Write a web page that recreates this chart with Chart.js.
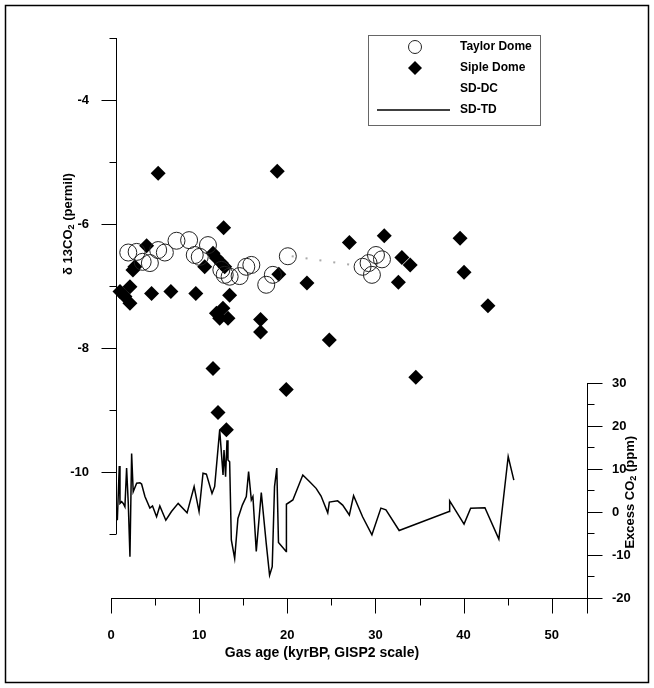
<!DOCTYPE html>
<html>
<head>
<meta charset="utf-8">
<script src="https://cdn.jsdelivr.net/npm/chart.js@4.4.1/dist/chart.umd.min.js"></script>
<style>
  html, body { margin: 0; padding: 0; background: #fff; }
  #wrap { width: 654px; height: 688px; }
</style>
</head>
<body>
<div id="wrap"><canvas id="isoChart" width="654" height="688"></canvas></div>
<script>
// Taylor Dome d13C of CO2 (permil) against gas age (kyr BP)
const tdAge = [1.96, 2.91, 3.59, 4.41, 5.35, 6.11, 7.43, 8.86, 9.5, 10.07, 11.0, 12.52, 12.9, 13.46,
  14.59, 15.35, 15.92, 17.61, 18.36, 20.06, 28.54, 29.22, 29.6, 30.06, 30.74];
const tdD13 = [-6.46, -6.45, -6.61, -6.63, -6.42, -6.46, -6.27, -6.26, -6.5, -6.53, -6.34, -6.74, -6.82, -6.85,
  -6.84, -6.69, -6.66, -6.98, -6.82, -6.52, -6.69, -6.63, -6.82, -6.5, -6.57];

// Siple Dome d13C of CO2 (permil)
const sdAge = [1.02, 1.58, 2.15, 2.15, 2.49, 2.71, 4.04, 4.6, 5.35, 6.79, 9.62, 10.63, 11.57, 11.57,
  11.96, 11.96, 12.14, 12.33, 12.52, 12.7, 12.78, 12.9, 13.09, 13.27, 13.46, 16.97, 16.97, 18.86,
  19.04, 19.88, 22.23, 24.77, 27.04, 31.0, 32.6, 33.0, 33.94, 34.58, 39.6, 40.05, 42.76];
const sdD13 = [-7.09, -7.17, -7.01, -7.28, -6.74, -6.69, -6.35, -7.12, -5.18, -7.09, -7.12, -6.69, -6.47, -8.33,
  -6.55, -7.44, -9.04, -7.52, -6.63, -7.36, -6.06, -6.69, -9.32, -7.52, -7.15, -7.54, -7.74, -5.15,
  -6.81, -8.67, -6.95, -7.87, -6.3, -6.19, -6.94, -6.54, -6.66, -8.47, -6.23, -6.78, -7.32];

// SD-DC trace (permil axis)
const dcAge = [20.5, 28.3];
const dcD13 = [-6.52, -6.68];

// SD-TD excess CO2 (ppm, right axis)
const exAge = [0.72, 0.94, 1.02, 1.21, 1.39, 1.58, 1.77, 1.96, 2.15, 2.34, 2.52, 2.91, 3.28, 3.47, 3.85,
  4.41, 4.71, 5.17, 5.54, 6.22, 6.86, 7.62, 8.63, 9.43, 9.99, 10.44, 10.82, 11.46, 11.76, 12.33,
  12.71, 12.82, 13.0, 13.16, 13.27, 13.46, 13.65, 14.03, 14.4, 14.9, 15.35, 15.61, 15.92, 16.1,
  16.48, 17.05, 17.61, 17.99, 18.29, 18.55, 18.81, 19.0, 19.87, 19.9, 20.63, 21.76, 22.51, 23.27,
  23.83, 24.59, 24.77, 25.71, 26.28, 27.04, 27.52, 28.54, 29.6, 30.62, 31.19, 32.69, 38.35, 38.42,
  40.05, 40.8, 42.42, 44.0, 45.06, 45.7];
const exPpm = [-1.9, 10.7, 2.0, 2.4, 2.0, 1.2, 10.2, 2.0, -10.4, 13.6, 4.7, 6.7, 6.8, 6.5, 3.6,
  0.9, 1.4, -1.1, 1.4, -1.9, 0.1, 2.0, -0.2, 5.9, 0.1, 9.0, 8.8, 4.3, 5.9, 19.1,
  8.6, 14.4, 8.2, 16.7, 12.1, 11.7, -6.5, -10.8, -1.5, 1.6, 3.6, 9.4, 2.8, 3.6,
  -9.2, 4.5, -7.3, -14.7, -12.7, 5.9, 10.2, -7.1, -9.2, 1.8, 2.8, 8.6, 7.1, 5.5,
  3.7, -0.2, 2.3, 2.6, 1.6, -0.7, 3.8, -1.1, -5.3, 0.9, 0.5, -4.3, 0.1, 2.6,
  -2.8, 0.9, 1.0, -6.3, 12.9, 7.4];

const xTicks = [0, 10, 20, 30, 40, 50];
const leftTicks = [-10, -8, -6, -4];
const rightTicks = [-20, -10, 0, 10, 20, 30];

const FONT = "'Liberation Sans', Arial, sans-serif";
const pts = (xs, ys) => xs.map((x, i) => ({ x: x, y: ys[i] }));

// text with a subscripted piece, centred on the current origin
function drawParts(ctx, parts, size) {
  let total = 0;
  parts.forEach(p => {
    ctx.font = 'bold ' + (p.sub ? size * 0.7 : size) + 'px ' + FONT;
    p.w = ctx.measureText(p.t).width;
    total += p.w;
  });
  let x = -total / 2;
  parts.forEach(p => {
    ctx.font = 'bold ' + (p.sub ? size * 0.7 : size) + 'px ' + FONT;
    ctx.fillText(p.t, x, p.sub ? size * 0.3 : 0);
    x += p.w;
  });
}

const offsetAxes = {
  id: 'offsetAxes',
  afterDraw(chart) {
    const { ctx, chartArea: a } = chart;
    const { x, y, y2 } = chart.scales;
    const line = (x1, y1, x2, yb) => { ctx.beginPath(); ctx.moveTo(x1, y1); ctx.lineTo(x2, yb); ctx.stroke(); };
    const snap = v => Math.round(v) + 0.5;

    ctx.save();
    ctx.strokeStyle = '#000';
    ctx.fillStyle = '#000';

    // outer frame
    ctx.lineWidth = 1.5;
    ctx.strokeRect(5.5, 5.5, 643, 677);
    ctx.lineWidth = 1;

    // left axis (permil), sits just right of x = 0
    const lx = snap(x.getPixelForValue(0.55));
    line(lx, y.getPixelForValue(-3), lx, y.getPixelForValue(-11));
    for (let v = -11; v <= -3; v++) {
      const py = snap(y.getPixelForValue(v));
      line(lx - (v % 2 === 0 ? 15 : 7), py, lx, py);
    }

    // bottom axis
    const by = snap(a.bottom);
    line(x.getPixelForValue(0), by, a.right + 8, by);
    for (let v = 0; v <= 50; v += 5) {
      const px = snap(x.getPixelForValue(v));
      line(px, by, px, by + (v % 10 === 0 ? 15 : 7));
    }

    // right axis (ppm)
    const rx = snap(a.right);
    line(rx, y2.getPixelForValue(30), rx, by + 15);
    for (let v = -20; v <= 30; v += 5) {
      const py = snap(y2.getPixelForValue(v));
      line(rx, py, rx + (v % 10 === 0 ? 15 : 7), py);
    }

    // axis titles
    ctx.textBaseline = 'middle';
    ctx.save();
    ctx.translate(322, 653);
    drawParts(ctx, [{ t: 'Gas age (kyrBP, GISP2 scale)' }], 14);
    ctx.restore();

    ctx.save();
    ctx.translate(68, y.getPixelForValue(-6));
    ctx.rotate(-Math.PI / 2);
    drawParts(ctx, [{ t: '\u03B4 13CO' }, { t: '2', sub: true }, { t: ' (permil)' }], 13);
    ctx.restore();

    ctx.save();
    ctx.translate(630, y2.getPixelForValue(4.6));
    ctx.rotate(-Math.PI / 2);
    drawParts(ctx, [{ t: 'Excess CO' }, { t: '2', sub: true }, { t: ' (ppm)' }], 13);
    ctx.restore();

    // legend box
    ctx.strokeStyle = '#666';
    ctx.strokeRect(368.5, 35.5, 172, 90);
    const rows = [47, 68, 89, 110];
    chart.data.datasets.forEach((ds, i) => {
      const ry = rows[i];
      ctx.strokeStyle = '#000';
      ctx.fillStyle = '#000';
      if (!ds.showLine && ds.pointStyle === 'circle') {
        ctx.strokeStyle = ds.borderColor;
        ctx.beginPath(); ctx.arc(415, ry, 6.5, 0, Math.PI * 2); ctx.stroke();
      } else if (!ds.showLine && ds.pointStyle === 'rectRot') {
        ctx.beginPath();
        ctx.moveTo(415, ry - 7); ctx.lineTo(422, ry); ctx.lineTo(415, ry + 7); ctx.lineTo(408, ry);
        ctx.closePath(); ctx.fill();
      } else if (ds.showLine && !ds.borderDash) {
        ctx.lineWidth = ds.borderWidth;
        line(377, ry, 450, ry);
        ctx.lineWidth = 1;
      }
      ctx.fillStyle = '#000';
      ctx.font = 'bold 12px ' + FONT;
      ctx.textAlign = 'left';
      ctx.fillText(ds.label, 460, ry);
    });
    ctx.restore();
  }
};

const tickFont = { family: FONT, size: 13, weight: 'bold' };
const fixedTicks = list => scale => { scale.ticks = list.map(v => ({ value: v })); };

new Chart(document.getElementById('isoChart'), {
  type: 'scatter',
  data: {
    datasets: [
      {
        label: 'Taylor Dome',
        data: pts(tdAge, tdD13),
        yAxisID: 'y',
        showLine: false,
        pointStyle: 'circle',
        pointRadius: 8.5,
        borderColor: '#222',
        borderWidth: 1,
        backgroundColor: 'rgba(0,0,0,0)'
      },
      {
        label: 'Siple Dome',
        data: pts(sdAge, sdD13),
        yAxisID: 'y',
        showLine: false,
        pointStyle: 'rectRot',
        pointRadius: 7.5,
        borderColor: '#000',
        borderWidth: 0,
        backgroundColor: '#000'
      },
      {
        label: 'SD-DC',
        data: pts(dcAge, dcD13),
        yAxisID: 'y',
        showLine: true,
        borderColor: '#aaa',
        borderWidth: 2,
        borderDash: [2, 12],
        pointRadius: 0
      },
      {
        label: 'SD-TD',
        data: pts(exAge, exPpm),
        yAxisID: 'y2',
        showLine: true,
        borderColor: '#000',
        borderWidth: 1.5,
        pointRadius: 0,
        tension: 0
      }
    ]
  },
  options: {
    responsive: false,
    animation: false,
    devicePixelRatio: 1,
    layout: { padding: { top: 38, left: 0, right: 0, bottom: 0 } },
    plugins: { legend: { display: false }, tooltip: { enabled: false } },
    scales: {
      x: {
        type: 'linear',
        position: 'bottom',
        min: 0,
        max: 54,
        grid: { display: false },
        border: { display: false },
        afterBuildTicks: fixedTicks(xTicks),
        afterFit: s => { s.height = 90; },
        ticks: { font: tickFont, color: '#000', padding: 22, maxRotation: 0 }
      },
      y: {
        type: 'linear',
        position: 'left',
        min: -12.032,
        max: -3,
        grid: { display: false },
        border: { display: false },
        afterBuildTicks: fixedTicks(leftTicks),
        afterFit: s => { s.width = 111; },
        ticks: { font: tickFont, color: '#000', padding: 14 }
      },
      y2: {
        type: 'linear',
        position: 'right',
        min: -20,
        max: 110.23,
        grid: { display: false },
        border: { display: false },
        afterBuildTicks: fixedTicks(rightTicks),
        afterFit: s => { s.width = 67; },
        ticks: { font: tickFont, color: '#000', padding: 17 }
      }
    }
  },
  plugins: [offsetAxes]
});
</script>
</body>
</html>
